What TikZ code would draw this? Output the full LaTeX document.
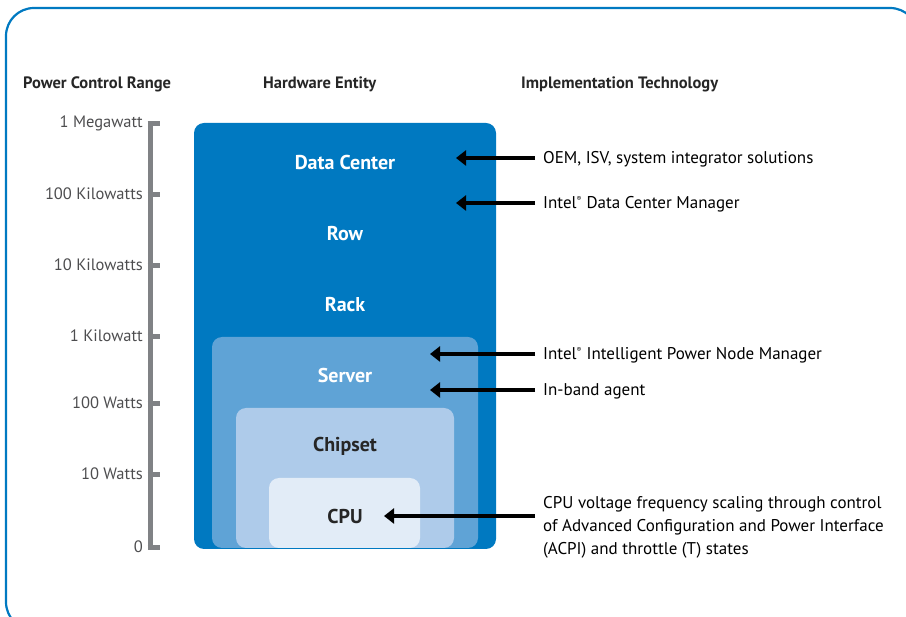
\documentclass[tikz,border=0pt]{standalone}
\usepackage{fontspec}
\setmainfont{PT Sans}
\usetikzlibrary{arrows.meta,positioning}

\definecolor{dcblue}{HTML}{0079C1}
\definecolor{srvblue}{HTML}{5FA3D6}
\definecolor{chipblue}{HTML}{AECBEA}
\definecolor{cpublue}{HTML}{E2ECF7}
\definecolor{axisgray}{HTML}{808285}
\definecolor{labelgray}{HTML}{4D4D4F}

\begin{document}
\begin{tikzpicture}[
       x=1pt,y=-1pt,
       header/.style={
         anchor=west,
         font=\fontsize{16.5}{18}\selectfont\bfseries,
         text=black!85
       },
       level/.style={
         anchor=east,
         font=\fontsize{16.5}{18}\selectfont,
         text=labelgray,
         inner sep=0pt
       },
       entity/.style={
         font=\fontsize{20}{22}\selectfont\bfseries
       },
       tech/.style={
         anchor=west,
         font=\fontsize{17}{23}\selectfont,
         align=left,
         inner sep=0pt
       },
       box/.style={
         rounded corners=10pt
       },
       pointer/.style={
         line width=4.5pt,
         -{Triangle[length=10pt,width=15pt]}
       }
     ]

       \useasboundingbox (0,0) rectangle (906,617);
       \begin{scope}
         \clip (0,0) rectangle (906,617);
         \draw[dcblue,line width=2.2pt,rounded corners=28pt] (6,8) rectangle (918,630);
       \end{scope}

       % column headers
       \node[header,inner sep=0pt] (hpower) at (23,84) {Power Control Range};
       \node[header,inner sep=0pt] (hentity) at (263,84) {Hardware Entity};
       \node[header,inner sep=0pt] (htech) at (521,84) {Implementation Technology};

       % power scale
       \coordinate (top) at (150,124);
       \coordinate (bot) at (150,548);
       \draw[axisgray,line width=5pt] (top) -- (bot);
       \foreach \y/\txt [count=\i] in {124/1 Megawatt,195/100 Kilowatts,266/10 Kilowatts,
           337/1 Kilowatt,404/100 Watts,475/10 Watts,548/0} {
         \coordinate (t\i) at (150,\y);
         \draw[axisgray,line width=5pt] (147.5,\y) -- (160,\y);
         \node[level] (l\i) at (143,\y-1) {\txt};
       }

       % nested hardware boxes
       \fill[dcblue,box] (194,123) rectangle (496,549);
       \fill[srvblue,box] (212,337) rectangle (478,548);
       \fill[chipblue,box] (236,408) rectangle (454,548);
       \fill[cpublue,box] (269,478) rectangle (420,548);

       \node[entity,text=white] (dc) at (345,163) {Data Center};
       \node[entity,text=white] (row) at (345,234) {Row};
       \node[entity,text=white] (rack) at (345,305) {Rack};
       \node[entity,text=white] (server) at (345,376) {Server};
       \node[entity,text=black!85] (chipset) at (345,446) {Chipset};
       \node[entity,text=black!85] (cpu) at (345,517) {CPU};

       % technologies and their targets
       \node[tech] (oem) at (543,159) {OEM, ISV, system integrator solutions};
       \node[tech] (dcm) at (543,204) {Intel\textsuperscript{\scriptsize\textregistered} Data Center Manager};
       \node[tech] (nm) at (543,355) {Intel\textsuperscript{\scriptsize\textregistered} Intelligent Power Node Manager};
       \node[tech] (agent) at (543,391) {In-band agent};
       \node[tech,anchor=north west] (dvfs) at (543,496) {CPU voltage frequency scaling through control\\
         of Advanced Configuration and Power Interface\\(ACPI) and throttle (T) states};

       \coordinate (a1) at (456,158);
       \coordinate (a2) at (456,203);
       \coordinate (a3) at (430,354);
       \coordinate (a4) at (430,390);
       \coordinate (a5) at (384,516);

       \draw[pointer] (535,158) -- (a1);
       \draw[pointer] (535,203) -- (a2);
       \draw[pointer] (535,354) -- (a3);
       \draw[pointer] (535,390) -- (a4);
       \draw[pointer] (535,516) -- (a5);

\end{tikzpicture}
\end{document}
